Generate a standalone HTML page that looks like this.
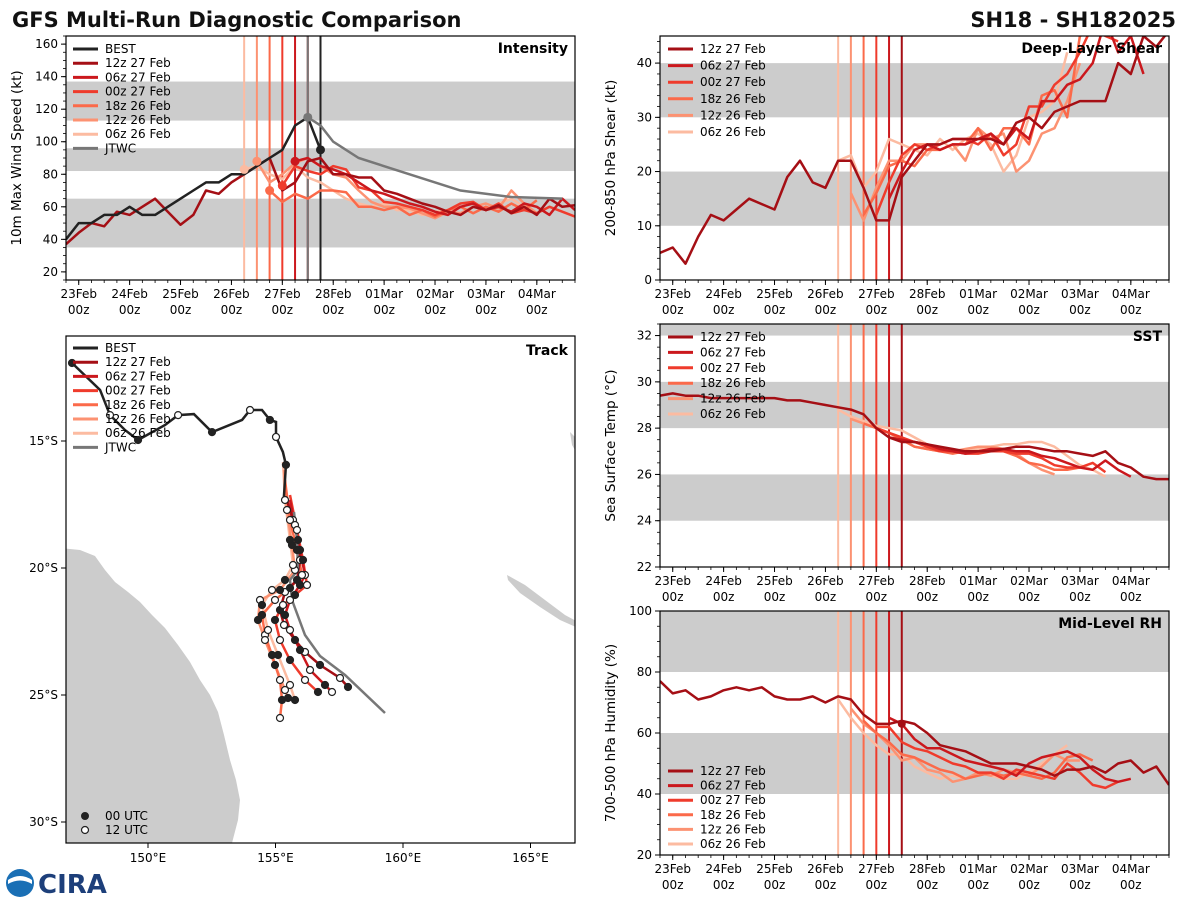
<!DOCTYPE html>
<html><head><meta charset="utf-8">
<style>
body{margin:0;background:#fff;font-family:"DejaVu Sans","Liberation Sans",sans-serif;}
svg text{font-family:"DejaVu Sans","Liberation Sans",sans-serif;}
</style></head>
<body>
<svg id="fig" width="1200" height="900" viewBox="0 0 1200 900" xmlns="http://www.w3.org/2000/svg">
<rect width="1200" height="900" fill="#fff"/>
<text x="12" y="27" font-size="21" font-weight="bold" fill="#111">GFS Multi-Run Diagnostic Comparison</text>
<text x="1176" y="27" font-size="21" font-weight="bold" fill="#111" text-anchor="end">SH18 - SH182025</text>
<g>
<circle cx="20" cy="883" r="14" fill="#1a6fb5"/>
<path d="M8 880 Q20 872 32 880 L32 884 Q20 877 8 884 Z" fill="#fff"/>
<text x="38" y="893" font-size="26" font-weight="bold" fill="#1d3f7a" font-family="Liberation Serif, serif">CIRA</text>
</g>
</svg>
<script>
// ---------- DATA ----------
const dayLabels = ["23Feb","24Feb","25Feb","26Feb","27Feb","28Feb","01Mar","02Mar","03Mar","04Mar"];
const runNames = ["12z 27 Feb","06z 27 Feb","00z 27 Feb","18z 26 Feb","12z 26 Feb","06z 26 Feb"];
const runColors = ["#a50f15","#cb181d","#ef3b2c","#fb6a4a","#fc9272","#fcbba1"];
const runInit = [4.5,4.25,4.0,3.75,3.5,3.25];
// intensity (kt), 6-hourly
const bestStart = -0.25;
const bestVmax = [40,50,50,55,55,60,55,55,60,65,70,75,75,80,80,85,90,95,110,115,95];
const jtwcT = [4.5,4.75,5.0,5.5,6.5,7.5,8.5,9.5];
const jtwcV = [115,110,100,90,80,70,66,65];
const intStart = [-0.25,4.25,4.0,3.75,3.5,3.25];
const int12z27 = [37,44,50,48,57,55,60,65,57,49,55,70,68,75,80,85,90,70,75,88,90,80,80,78,78,70,68,65,62,60,57,55,60,58,61,56,60,55,65,60,61];
const int06z27 = [88,90,85,83,80,75,70,68,65,62,60,57,55,60,62,58,60,57,62,60,55,65,58];
const int00z27 = [73,85,82,80,85,83,72,70,63,62,60,58,55,58,62,63,58,62,56,58,56,60,57,54];
const int18z26 = [70,63,68,65,70,70,69,60,60,58,60,55,58,54,58,60,56,60,57,62,58,64];
const int12z26 = [88,75,80,87,90,85,80,78,70,63,60,60,59,56,53,57,56,60,62,59,70,62,56];
const int06z26 = [83,85,80,77,85,78,75,70,65,62,60,62,58,58,55,57,58,55,60,58,62,65,60];
// shear (kt)
const shrStart = [-0.25,4.25,4.0,3.75,3.5,3.25];
const shr12z27 = [5,6,3,8,12,11,13,15,14,13,19,22,18,17,22,22,17,11,11,19,22,25,25,26,26,26,26,25,29,30,28,31,32,33,33,33,40,38,45,43,46];
const shr06z27 = [15,20,24,25,24,25,25,26,27,25,28,26,33,33,36,37,40,48,42,45,38];
const shr00z27 = [12,18,23,25,24,25,26,26,25,27,23,25,32,32,36,38,42,47,45,44];
const shr18z26 = [12,16,21,22,21,24,24,25,25,28,24,28,28,25,34,35,30,45,46];
const shr12z26 = [16,11,17,22,22,25,25,24,25,22,28,26,27,20,22,27,28,33,40];
const shr06z26 = [22,23,17,20,26,25,24,23,26,24,26,27,25,20,23,30,31,33,42];
// SST (C)
const sstStart = [-0.25,4.25,4.0,3.75,3.5,3.25];
const sst12z27 = [29.4,29.5,29.4,29.4,29.3,29.3,29.3,29.3,29.3,29.3,29.2,29.2,29.1,29.0,28.9,28.8,28.6,28.0,27.6,27.4,27.4,27.3,27.2,27.1,27.0,27.0,27.0,27.1,27.2,27.2,27.1,27.0,27.0,26.9,26.8,27.0,26.5,26.3,25.9,25.8,25.8];
const sst06z27 = [27.6,27.5,27.4,27.3,27.1,27.0,26.9,27.0,27.1,27.1,27.0,27.0,26.8,26.7,26.5,26.3,26.2,26.6,26.2,25.9];
const sst00z27 = [28.0,27.8,27.6,27.4,27.2,27.0,27.0,26.9,26.9,27.0,27.0,26.9,26.9,26.7,26.4,26.3,26.3,26.5,26.1];
const sst18z26 = [28.2,28.0,27.8,27.5,27.2,27.1,27.0,26.9,27.0,27.0,27.1,27.0,26.8,26.5,26.4,26.2,26.2,26.3];
const sst12z26 = [28.4,28.2,28.0,27.8,27.5,27.2,27.1,27.0,27.0,27.1,27.2,27.2,27.1,26.9,26.5,26.2,26.0];
const sst06z26 = [28.8,28.5,28.3,28.1,28.0,27.9,27.6,27.3,27.1,27.0,27.0,27.1,27.2,27.3,27.3,27.4,27.4,27.2,26.8,26.4,26.2,25.9];
// RH (%)
const rhStart = [-0.25,4.25,4.0,3.75,3.5,3.25];
const rh12z27 = [77,73,74,71,72,74,75,74,75,72,71,71,72,70,72,71,66,63,63,64,63,60,56,55,54,52,50,50,50,49,48,46,48,48,49,47,50,51,47,49,43];
const rh06z27 = [65,63,58,55,55,53,51,50,49,48,46,50,52,53,54,52,48,45,44,45];
const rh00z27 = [62,62,57,55,54,52,50,49,47,47,45,48,47,46,45,50,47,43,42,44];
const rh18z26 = [64,60,57,53,52,50,48,47,45,46,47,46,47,46,45,47,52,53,51];
const rh12z26 = [68,63,60,56,51,52,48,47,44,45,47,46,48,47,46,49,53,51,51];
const rh06z26 = [71,65,60,56,53,53,49,47,45,46,45,47,46,45,45,47,50,53,56];
// track (lon E, lat S)
const bestLon = [147.02,148.12,148.51,149.10,149.61,150.67,151.18,151.80,152.51,153.69,154.00,154.47,154.78,155.02,155.02,155.29,155.41,155.33];
const bestLat = [11.93,12.99,13.98,14.57,14.96,14.37,13.98,13.94,14.65,14.17,13.78,13.78,14.17,14.25,14.84,15.43,15.94,17.20];
const trkX = [
 [286,293,298,300,297,285,280,284,295,305,320,340,348],
 [290,295,300,305,300,290,285,290,300,310,325,332],
 [290,297,303,307,295,283,275,280,290,305,318],
 [285,290,297,302,290,275,262,265,272,280,282,280],
 [284,287,292,295,280,260,258,265,275,285,288],
 [283,285,290,293,285,272,262,268,278,290,295]];
const trkY = [
 [497,520,540,560,580,592,610,625,640,652,665,678,687],
 [500,525,550,575,585,600,615,630,650,670,685,692],
 [495,530,560,585,595,605,620,640,660,680,692],
 [480,520,550,575,588,600,615,635,655,680,700,718],
 [470,510,545,570,590,600,620,640,665,690,698],
 [462,500,540,565,580,590,605,630,655,685,700]];
const jtwcTrkX = [294,297,298,290,292,305,320,345,385];
const jtwcTrkY = [512,540,570,580,600,635,656,675,713];

// ---------- HELPERS ----------
const NS="http://www.w3.org/2000/svg";
const svg=document.getElementById('fig');
function mk(tag,attrs,parent){const e=document.createElementNS(NS,tag);for(const k in attrs)e.setAttribute(k,attrs[k]);(parent||svg).appendChild(e);return e;}
function txt(s,attrs,parent){const e=mk('text',attrs,parent);e.textContent=s;return e;}

function panel(cfg){
  const g=mk('g',{});
  
  
  const X=t=>cfg.x0+(t+0.25)/10*(cfg.x1-cfg.x0);
  const Y=v=>cfg.y1-(v-cfg.vmin)/(cfg.vmax-cfg.vmin)*(cfg.y1-cfg.y0);
  cfg.X=X;cfg.Y=Y;
  const clipId='clip-'+cfg.name;
  const cp=mk('clipPath',{id:clipId},g);
  mk('rect',{x:cfg.x0,y:cfg.y0,width:cfg.x1-cfg.x0,height:cfg.y1-cfg.y0},cp);
  cfg.bands.forEach(b=>{
    const r=mk('rect',{x:cfg.x0,y:Y(Math.min(b[1],cfg.vmax)),width:cfg.x1-cfg.x0,height:Y(b[0])-Y(Math.min(b[1],cfg.vmax)),fill:'#cccccc'},g);
    
    
  });
  cfg.yticks.forEach(v=>{
    mk('line',{x1:cfg.x0-5,x2:cfg.x0,y1:Y(v),y2:Y(v),stroke:'#000'},g);
    const t=txt(String(v),{x:cfg.x0-8,y:Y(v)+4,'font-size':12,'text-anchor':'end'},g);
    
    
  });
  for(let v=cfg.vmin;v<=cfg.vmax;v+=cfg.minor){mk('line',{x1:cfg.x0-3,x2:cfg.x0,y1:Y(v),y2:Y(v),stroke:'#000','stroke-width':0.8},g);}
  dayLabels.forEach((d,i)=>{
    const x=X(i);
    mk('line',{x1:x,x2:x,y1:cfg.y1,y2:cfg.y1+5,stroke:'#000'},g);
    const t=txt(d,{x:x,y:cfg.y1+18,'font-size':12,'text-anchor':'middle'},g);
    
    
    txt('00z',{x:x,y:cfg.y1+34,'font-size':12,'text-anchor':'middle'},g);
  });
  for(let i=-0.25;i<=9.75;i+=0.25){mk('line',{x1:X(i),x2:X(i),y1:cfg.y1,y2:cfg.y1+3,stroke:'#000','stroke-width':0.8},g);}
  const yt=txt(cfg.ylabel,{x:0,y:0,'font-size':13.5,'text-anchor':'middle',transform:`translate(${cfg.x0-45},${(cfg.y0+cfg.y1)/2}) rotate(-90)`},g);
  
  
  const pl=mk('g',{'clip-path':`url(#${clipId})`},g);
  for(let i=runInit.length-1;i>=0;i--){
    mk('line',{x1:X(runInit[i]),x2:X(runInit[i]),y1:cfg.y0,y2:cfg.y1,stroke:runColors[i],'stroke-width':2},pl);
  }
  cfg.g=g;cfg.pl=pl;
  return cfg;
}
function series(cfg,start,vals,color,w,name){
  const pts=vals.map((v,i)=>cfg.X(start+i*0.25).toFixed(1)+','+cfg.Y(v).toFixed(1)).join(' ');
  const p=mk('polyline',{points:pts,fill:'none',stroke:color,'stroke-width':w,'stroke-linejoin':'round'},cfg.pl);
  
  
  return p;
}
function frame(cfg,title){
  mk('rect',{x:cfg.x0,y:cfg.y0,width:cfg.x1-cfg.x0,height:cfg.y1-cfg.y0,fill:'none',stroke:'#000','stroke-width':1.2},cfg.g);
  const t=txt(title,{x:cfg.x1-7,y:cfg.y0+17,'font-size':14,'font-weight':'bold','text-anchor':'end'},cfg.g);
  
  
}
function legend(g,x,y,dy,names,colors){
  names.forEach((n,i)=>{
    const e=mk('g',{},g);
    
    
    mk('line',{x1:x,x2:x+25,y1:y+i*dy,y2:y+i*dy,stroke:colors[i],'stroke-width':3},e);
    txt(n,{x:x+32,y:y+i*dy+4,'font-size':12},e);
  });
}
const runFc = (arrs,starts,cfg,prefix)=>{
  for(let i=arrs.length-1;i>=0;i--) series(cfg,starts[i],arrs[i],runColors[i],2.5,prefix+'-'+runNames[i].replace(/ /g,'-').toLowerCase());
};

// ---------- INTENSITY ----------
const P1=panel({name:'intensity',x0:66,x1:575,y0:36,y1:280,vmin:15,vmax:165,yticks:[20,40,60,80,100,120,140,160],minor:5,bands:[[35,65],[82,96],[113,137]],ylabel:'10m Max Wind Speed (kt)'});
mk('line',{x1:P1.X(4.5),x2:P1.X(4.5),y1:36,y2:280,stroke:'#777','stroke-width':2},P1.pl);
mk('line',{x1:P1.X(4.75),x2:P1.X(4.75),y1:36,y2:280,stroke:'#222','stroke-width':2},P1.pl);
runFc([int12z27,int06z27,int00z27,int18z26,int12z26,int06z26],intStart,P1,'intensity');
series(P1,bestStart,bestVmax,'#222',2.5,'best-intensity-line');
{const pts=jtwcT.map((t,i)=>P1.X(t)+','+P1.Y(jtwcV[i])).join(' ');
 const p=mk('polyline',{points:pts,fill:'none',stroke:'#777','stroke-width':2.5},P1.pl);
 
 }
[[3.25,int06z26[0],5],[3.5,int12z26[0],4],[3.75,int18z26[0],3],[4.0,int00z27[0],2],[4.25,int06z27[0],1]].forEach(a=>mk('circle',{cx:P1.X(a[0]),cy:P1.Y(a[1]),r:4.5,fill:runColors[a[2]]},P1.pl));
mk('circle',{cx:P1.X(jtwcT[0]),cy:P1.Y(jtwcV[0]),r:4.5,fill:'#777'},P1.pl);
mk('circle',{cx:P1.X(bestStart+(bestVmax.length-1)*0.25),cy:P1.Y(bestVmax[bestVmax.length-1]),r:4.5,fill:'#222'},P1.pl);
frame(P1,'Intensity');
legend(P1.g,73,49,14.2,['BEST'].concat(runNames,['JTWC']),['#222'].concat(runColors,['#777']));

// ---------- SHEAR ----------
const P2=panel({name:'shear',x0:660,x1:1169,y0:36,y1:280,vmin:0,vmax:45,yticks:[0,10,20,30,40],minor:2,bands:[[10,20],[30,40]],ylabel:'200-850 hPa Shear (kt)'});
runFc([shr12z27,shr06z27,shr00z27,shr18z26,shr12z26,shr06z26],shrStart,P2,'shear');
frame(P2,'Deep-Layer Shear');
legend(P2.g,668,49,16.6,runNames,runColors);

// ---------- SST ----------
const P3=panel({name:'sst',x0:660,x1:1169,y0:324,y1:567,vmin:22,vmax:32.5,yticks:[22,24,26,28,30,32],minor:0.5,bands:[[24,26],[28,30],[32,34]],ylabel:'Sea Surface Temp (°C)'});
runFc([sst12z27,sst06z27,sst00z27,sst18z26,sst12z26,sst06z26],sstStart,P3,'sst');
frame(P3,'SST');
legend(P3.g,668,337,15.4,runNames,runColors);

// ---------- RH ----------
const P4=panel({name:'rh',x0:660,x1:1169,y0:611,y1:855,vmin:20,vmax:100,yticks:[20,40,60,80,100],minor:5,bands:[[40,60],[80,100]],ylabel:'700-500 hPa Humidity (%)'});
runFc([rh12z27,rh06z27,rh00z27,rh18z26,rh12z26,rh06z26],rhStart,P4,'rh');
mk('circle',{cx:P4.X(4.5),cy:P4.Y(63),r:4,fill:runColors[0]},P4.pl);
frame(P4,'Mid-Level RH');
legend(P4.g,668,771,14.6,runNames,runColors);

// ---------- TRACK ----------
const TX=lon=>148+(lon-150)*25.5;
const TY=lat=>441+(lat-15)*25.4;
const tg=mk('g',{});


const tcp=mk('clipPath',{id:'clip-track'},tg);
mk('rect',{x:66,y:336,width:509,height:507},tcp);
const tpl=mk('g',{'clip-path':'url(#clip-track)'},tg);
const land=mk('path',{d:'M60 548 L80 550 L95 556 L105 570 L115 582 L128 592 L140 602 L152 615 L165 628 L178 645 L190 662 L200 680 L210 695 L218 712 L224 735 L230 760 L236 780 L240 800 L238 820 L232 843 L60 843 Z',fill:'#cccccc'},tpl);


const nc=mk('path',{d:'M507 575 L525 585 L545 600 L565 615 L578 622 L578 628 L560 620 L540 607 L520 593 L508 580 Z',fill:'#cccccc'},tpl);


mk('path',{d:'M570 432 L578 440 L578 455 L572 445 Z',fill:'#cccccc'},tpl);
[150,155,160,165].forEach(l=>{mk('line',{x1:TX(l),x2:TX(l),y1:843,y2:848,stroke:'#000'},tg);
 const t=txt(l+'°E',{x:TX(l),y:862,'font-size':12,'text-anchor':'middle'},tg);
 
 });
[15,20,25,30].forEach(l=>{mk('line',{x1:61,x2:66,y1:TY(l),y2:TY(l),stroke:'#000'},tg);
 const t=txt(l+'°S',{x:58,y:TY(l)+4,'font-size':12,'text-anchor':'end'},tg);
 
 });
for(let i=trkX.length-1;i>=0;i--){
  const p=mk('polyline',{points:trkX[i].map((x,j)=>x+','+trkY[i][j]).join(' '),fill:'none',stroke:runColors[i],'stroke-width':2.5},tpl);
  
  
}
{const p=mk('polyline',{points:jtwcTrkX.map((x,j)=>x+','+jtwcTrkY[j]).join(' '),fill:'none',stroke:'#777','stroke-width':2.5},tpl);
 
 }
{const p=mk('polyline',{points:bestLon.map((l,j)=>TX(l)+','+TY(bestLat[j])).join(' '),fill:'none',stroke:'#222','stroke-width':2.5},tpl);
 
 }
for(let i=0;i<trkX.length;i++){
  trkX[i].forEach((x,j)=>{if(j===0)return;mk('circle',{cx:x,cy:trkY[i][j],r:3.5,fill:j%2?'#fff':'#222',stroke:'#222','stroke-width':1.2},tpl);});
}
bestLon.forEach((l,j)=>{if(j%2)return;mk('circle',{cx:TX(l),cy:TY(bestLat[j]),r:3.5,fill:j%4?'#fff':'#222',stroke:'#222','stroke-width':1.2},tpl);});
mk('rect',{x:66,y:336,width:509,height:507,fill:'none',stroke:'#000','stroke-width':1.2},tg);
{const t=txt('Track',{x:568,y:355,'font-size':14,'font-weight':'bold','text-anchor':'end'},tg);
 
 }
legend(tg,73,348,14.2,['BEST'].concat(runNames,['JTWC']),['#222'].concat(runColors,['#777']));
mk('circle',{cx:85,cy:816,r:3.5,fill:'#222',stroke:'#222'},tg);
txt('00 UTC',{x:105,y:820,'font-size':12},tg);
mk('circle',{cx:85,cy:830,r:3.5,fill:'#fff',stroke:'#222','stroke-width':1.2},tg);
txt('12 UTC',{x:105,y:834,'font-size':12},tg);
</script>
</body></html>
